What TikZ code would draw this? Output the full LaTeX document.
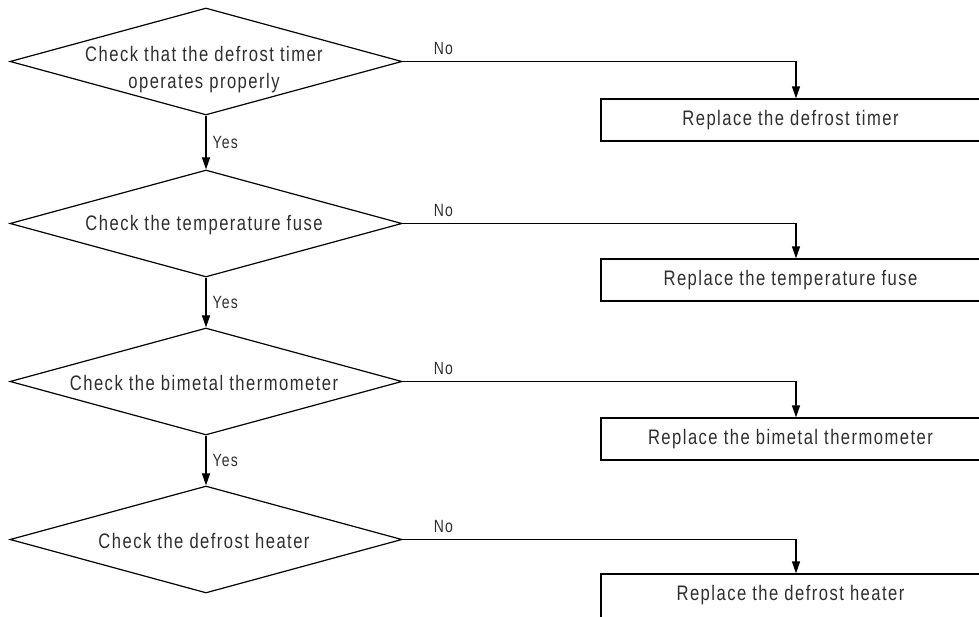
\documentclass[tikz,border=0pt]{standalone}
\usepackage{fontspec}
\setmainfont{Liberation Sans}[FakeStretch=0.79, LetterSpace=7]
\usetikzlibrary{shapes.geometric,arrows.meta,calc}
\begin{document}
\begin{tikzpicture}[x=1pt,y=-1pt,
  dia/.style={shape=diamond, draw, line width=1.2pt, minimum width=392pt, minimum height=107pt, inner sep=0pt},
  txt/.style={font=\fontsize{21}{27}\selectfont, align=center, inner sep=0pt, text=black!82},
  boxn/.style={draw, line width=1.2pt, minimum width=379pt, minimum height=42pt, inner sep=0pt, text=black!82, font=\fontsize{21}{28}\selectfont},
  lab/.style={font=\fontsize{17.7}{20}\selectfont, inner sep=0pt, text=black!82},
  arr/.style={line width=1.2pt, -{Triangle[length=12pt,width=8pt]}}]
\useasboundingbox (0,0) rectangle (979,617);

% decisions
\node[dia] (d1) at (206,61.5) {};
\node[dia] (d2) at (206,223.5) {};
\node[dia] (d3) at (206,381.5) {};
\node[dia] (d4) at (206,539.5) {};

\node[txt] (t1) at ([xshift=-2pt,yshift=-8.5pt]d1.center) {Check that the defrost timer\\operates properly};
\node[txt] (t2) at ([xshift=-2pt,yshift=-1.5pt]d2.center) {Check the temperature fuse};
\node[txt] (t3) at ([xshift=-2pt,yshift=-1.5pt]d3.center) {Check the bimetal thermometer};
\node[txt] (t4) at ([xshift=-2pt,yshift=-1.5pt]d4.center) {Check the defrost heater};

% actions
\node[boxn] (b1) at (790.5,120) {Replace the defrost timer};
\node[boxn] (b2) at (790.5,280) {Replace the temperature fuse};
\node[boxn] (b3) at (790.5,439) {Replace the bimetal thermometer};
\node[boxn, minimum height=48pt] (b4) at (790.5,598) {};
\node[txt] (t8) at (790.5,595) {Replace the defrost heater};

% yes connectors
\draw[arr] (d1.south) -- node[lab, right=6pt] {Yes} (d2.north);
\draw[arr] (d2.south) -- node[lab, right=6pt] {Yes} (d3.north);
\draw[arr] (d3.south) -- node[lab, right=6pt] {Yes} (d4.north);

% no connectors
\draw[arr] (d1.east) -| ([xshift=5.5pt]b1.north);
\draw[arr] (d2.east) -| ([xshift=5.5pt]b2.north);
\draw[arr] (d3.east) -| ([xshift=5.5pt]b3.north);
\draw[arr] (d4.east) -| ([xshift=5.5pt]b4.north);

\node[lab, anchor=base west] (n1) at ([xshift=31pt,yshift=7pt]d1.east) {No};
\node[lab, anchor=base west] (n2) at ([xshift=31pt,yshift=7pt]d2.east) {No};
\node[lab, anchor=base west] (n3) at ([xshift=31pt,yshift=7pt]d3.east) {No};
\node[lab, anchor=base west] (n4) at ([xshift=31pt,yshift=7pt]d4.east) {No};
\end{tikzpicture}
\end{document}
